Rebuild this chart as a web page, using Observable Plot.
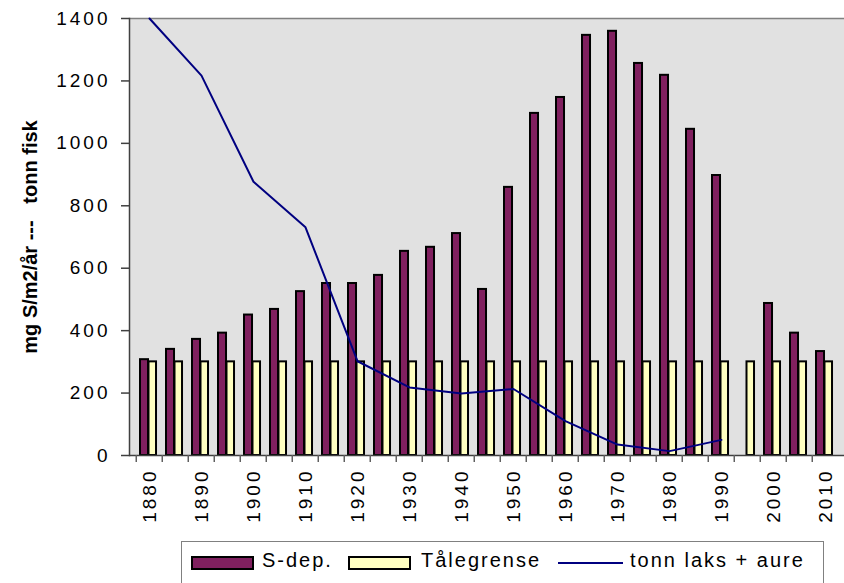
<!DOCTYPE html>
<html><head><meta charset="utf-8">
<script src="https://cdn.jsdelivr.net/npm/d3@7"></script>
<script src="https://cdn.jsdelivr.net/npm/@observablehq/plot@0.6"></script>
<style>
body{margin:0;background:#fff;font-family:"Liberation Sans",Arial,sans-serif;}
#wrap{position:relative;width:844px;height:583px;overflow:hidden;}
#chart svg{display:block;}
#chart [aria-label="y-axis tick label"] text,#chart [aria-label="x-axis tick label"] text{letter-spacing:3px;}
.legend{position:absolute;left:181px;top:541px;width:643px;height:60px;border:1px solid #808080;box-sizing:border-box;background:#fff;}
.sw{position:absolute;top:14px;width:59px;height:10px;border:2px solid #000;}
.lt{position:absolute;top:8px;font-size:20px;letter-spacing:2px;line-height:20px;white-space:nowrap;color:#000;}
.ln{position:absolute;top:20px;width:65px;height:2px;background:#000080;}
</style>
</head><body>
<div id="wrap">
<div id="chart"></div>
<div class="legend">
  <div class="sw" style="left:9px;background:#80205f"></div><div class="lt" style="left:80px">S-dep.</div>
  <div class="sw" style="left:166px;background:#ffffc0"></div><div class="lt" style="left:239px">Tålegrense</div>
  <div class="ln" style="left:376px"></div><div class="lt" style="left:448px">tonn laks + aure</div>
</div>
</div>
<script>
const years = [1880,1885,1890,1895,1900,1905,1910,1915,1920,1925,1930,1935,1940,1945,1950,1955,1960,1965,1970,1975,1980,1985,1990,1995,2000,2005,2010];
const sdep = [307,340,372,392,450,468,525,551,551,577,654,667,711,532,859,1096,1147,1346,1359,1256,1218,1045,897,null,487,392,333];
const taale = [300,300,300,300,300,300,300,300,300,300,300,300,300,300,300,300,300,300,300,300,300,300,300,300,300,300,300];
const fishYears = [1880,1890,1900,1910,1920,1930,1940,1950,1960,1970,1980,1990];
const fishTonn = [1400,1217,877,731,302,218,199,213,110,35,14,50];
const decadeLabels = [1880,1890,1900,1910,1920,1930,1940,1950,1960,1970,1980,1990,2000,2010];
const yTicks = [0,200,400,600,800,1000,1200,1400];
const yTitle = "mg S/m2/år ---\u00a0\u00a0\u00a0tonn fisk";

const W=844, H=536, ML=129, MR=0, MT=18, MB=81;
const bw = (W-ML-MR)/years.length;
const rows = years.map((y,i)=>({year:y, sdep:sdep[i], taale:taale[i]}));
const fish = fishYears.map((y,i)=>({year:y, tonn:fishTonn[i]}));

const chart = Plot.plot({
  width:W, height:H, marginLeft:ML, marginRight:MR, marginTop:MT, marginBottom:MB,
  style:{fontFamily:"'Liberation Sans', Arial, sans-serif", background:"transparent", overflow:"visible", color:"#000"},
  x:{type:"band", domain:years, padding:0},
  y:{domain:[0,1400]},
  marks:[
    Plot.frame({fill:"#e1e1e1"}),
    Plot.ruleY([1400],{stroke:"#808080", strokeWidth:1.5}),
    Plot.barY(rows.filter(d=>d.sdep!=null),{x:"year", y:"sdep", fill:"#80205f", stroke:"#000", strokeWidth:2, insetLeft:4, insetRight:bw-12.5}),
    Plot.barY(rows,{x:"year", y:"taale", fill:"#ffffc0", stroke:"#000", strokeWidth:2, insetLeft:12.5, insetRight:bw-20.5}),
    Plot.line(fish,{x:"year", y:"tonn", stroke:"#000080", strokeWidth:2}),
    Plot.ruleY([0],{stroke:"#404040", strokeWidth:1.5}),
    Plot.frame({anchor:"left", stroke:"#404040", strokeWidth:1.5}),
    Plot.axisY(yTicks,{tickSize:8, tickPadding:11, fontSize:19, stroke:"#404040", strokeWidth:1.5, tickFormat:d=>String(d), label:null}),
    Plot.axisX(years,{tickSize:7, tickFormat:()=>"", dx:-bw/2, stroke:"#606060", strokeWidth:1.5, label:null}),
    Plot.axisX(decadeLabels,{tickSize:0, tickRotate:-90, tickPadding:13, fontSize:19, tickFormat:d=>String(d), label:null}),
    Plot.text([yTitle],{frameAnchor:"left", textAnchor:"middle", rotate:-90, dx:-99, fontWeight:"bold", fontSize:20, fill:"#000"})
  ]
});
document.getElementById("chart").appendChild(chart);
</script>
</body></html>
